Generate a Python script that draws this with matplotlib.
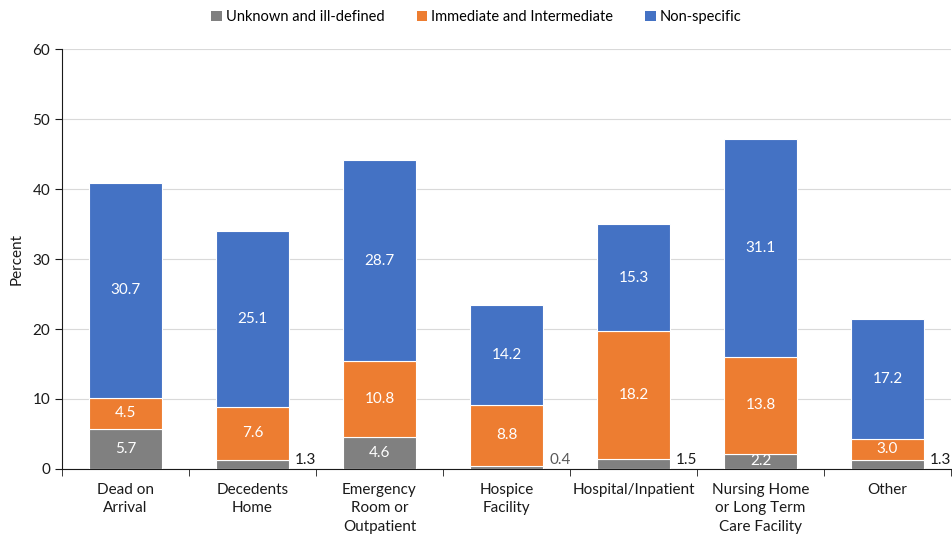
import matplotlib
matplotlib.use("Agg")
import matplotlib.pyplot as plt
import numpy as np
from matplotlib.patches import Patch

plt.rcParams['font.family'] = ['Lato', 'DejaVu Sans']

categories = ["Dead on\nArrival", "Decedents\nHome", "Emergency\nRoom or\nOutpatient",
              "Hospice\nFacility", "Hospital/Inpatient", "Nursing Home\nor Long Term\nCare Facility", "Other"]
unknown = [5.7, 1.3, 4.6, 0.4, 1.5, 2.2, 1.3]
immediate = [4.5, 7.6, 10.8, 8.8, 18.2, 13.8, 3.0]
nonspecific = [30.7, 25.1, 28.7, 14.2, 15.3, 31.1, 17.2]
series_names = ["Unknown and ill-defined", "Immediate and Intermediate", "Non-specific"]
colors = ["#808080", "#ED7D31", "#4472C4"]

fig = plt.figure(figsize=(9.53, 5.37), dpi=100)
ax = fig.add_axes([62/953, 1-469/537, 889/953, 420/537])

x = np.arange(len(categories))
w = 0.57
bottoms = np.zeros(len(categories))
for vals, col in zip([unknown, immediate, nonspecific], colors):
    vals = np.array(vals)
    ax.bar(x, vals, w, bottom=bottoms, color=col, edgecolor="white", linewidth=0.8, zorder=3)
    for xi, b, v in zip(x, bottoms, vals):
        if v < 2:
            ax.text(xi + w/2 + 0.05, b + 1.3, f"{v:.1f}", ha="left", va="center",
                    fontsize=11, color="#595959" if v < 1 else "#1a1a1a", zorder=4)
        else:
            ax.text(xi, b + v/2, f"{v:.1f}", ha="center", va="center",
                    fontsize=11, color="white", zorder=4)
    bottoms += vals

ax.set_xlim(-0.5, len(categories) - 0.5)
ax.set_ylim(0, 60)
ax.set_yticks(range(0, 61, 10))
ax.yaxis.grid(True, color="#D9D9D9", linewidth=0.8, zorder=0)
ax.set_axisbelow(True)
for s in ["top", "right"]:
    ax.spines[s].set_visible(False)
ax.spines["left"].set_color("#1a1a1a")
ax.spines["bottom"].set_color("#1a1a1a")
ax.tick_params(axis="y", labelsize=11, length=5, color="#1a1a1a", labelcolor="#1a1a1a")
ax.set_xticks(x)
ax.set_xticklabels(categories, fontsize=11, color="#1a1a1a", linespacing=1.4)
ax.tick_params(axis="x", length=0, pad=10)
ax.set_xticks(np.arange(-0.5, len(categories)), minor=True)
ax.tick_params(axis="x", which="minor", length=5, color="#1a1a1a")
ax.set_ylabel("Percent", fontsize=11, color="#1a1a1a", labelpad=6)

handles = [Patch(facecolor=c, edgecolor="none") for c in colors]
fig.legend(handles, series_names, loc="upper center", bbox_to_anchor=(0.5, 1.005), ncol=3,
           frameon=False, fontsize=10.5, handlelength=0.7, handleheight=0.7,
           handletextpad=0.3, columnspacing=2.2)

fig.savefig("out.png", dpi=100)
